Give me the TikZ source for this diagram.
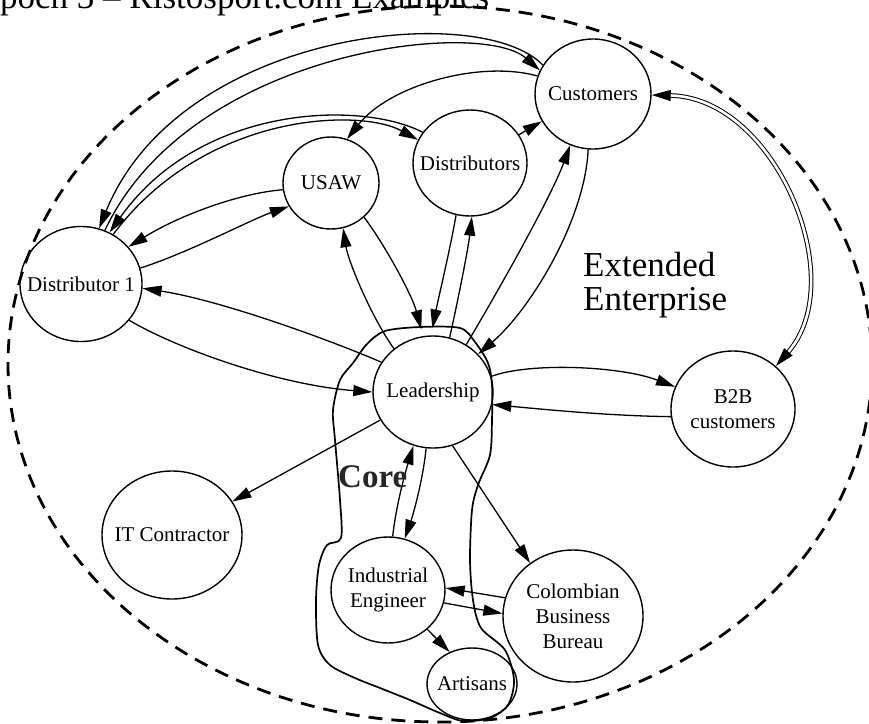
\documentclass[tikz,border=0pt]{standalone}
\usepackage{fontspec}
\setmainfont{Liberation Serif}
\usetikzlibrary{arrows.meta,shapes.geometric}
\begin{document}
\begin{tikzpicture}[x=1pt,y=-1pt,
  ent/.style={ellipse, draw, line width=1.4pt, inner sep=0pt},
  lab/.style={font=\fontsize{21}{25}\selectfont, align=center, inner sep=0pt},
  tip/.tip={Triangle[length=19pt,width=11pt]},
  arr/.style={line width=1.3pt, -tip},
  bigtext/.style={anchor=base west, inner sep=0pt, font=\fontsize{35}{34}\selectfont},
]
\useasboundingbox (0,0) rectangle (869,723);
\clip (0,0) rectangle (869,723);

% title (cut at the top, as in the source)
\node[bigtext] (title) at (0,8) {poch 3 – Ristosport.com Examples};

% extended enterprise boundary
\draw[line width=2.8pt, dash pattern=on 14pt off 9pt] (440,364) ellipse [x radius=432pt, y radius=358pt];

% nodes
\node[ent, minimum width=116pt, minimum height=110pt, label={[lab,name=l-cust]center:Customers}] (cust) at (593,94) {};
\node[ent, minimum width=114pt, minimum height=106pt, label={[lab,name=l-dists]center:Distributors}] (dists) at (470,163) {};
\node[ent, minimum width=96pt, minimum height=92pt, label={[lab,name=l-usaw]center:USAW}] (usaw) at (331,183) {};
\node[ent, minimum width=122pt, minimum height=115pt, label={[lab,name=l-d1]center:Distributor 1}] (d1) at (81,284) {};
\node[ent, minimum width=120pt, minimum height=112pt, label={[lab,name=l-lead]center:Leadership}] (lead) at (433,392) {};
\node[ent, minimum width=124pt, minimum height=116pt, label={[lab,name=l-b2b]center:B2B\\customers}] (b2b) at (733,409) {};
\node[ent, minimum width=140pt, minimum height=128pt, label={[lab,name=l-it]center:IT Contractor}] (it) at (172,535) {};
\node[ent, minimum width=114pt, minimum height=106pt, label={[lab,name=l-ie]center:Industrial\\Engineer}] (ie) at (388,590) {};
\node[ent, minimum width=140pt, minimum height=132pt, label={[lab,name=l-col]center:Colombian\\Business\\Bureau}] (col) at (573,616) {};
\node[ent, minimum width=90pt, minimum height=72pt, label={[lab,name=l-art]center:Artisans}] (art) at (472,684) {};

% connectors
\draw[arr] (cust.150) .. controls (480,0) and (180,30) .. (d1.72);
\draw[arr] (d1.66) .. controls (190,50) and (480,18) .. (cust.156);
\draw[arr] (cust.162) .. controls (480,60) and (390,85) .. (usaw.70);
\draw[arr] (dists.147) .. controls (360,100) and (200,105) .. (d1.61);
\draw[arr] (d1.57) .. controls (205,112) and (360,108) .. (dists.156);
\draw[arr] (dists.30) -- (cust.208);
\draw[arr] (usaw.188) .. controls (240,193) and (180,215) .. (d1.38);
\draw[arr] (d1.15) .. controls (190,252) and (250,220) .. (usaw.209);
\draw[arr] (lead.150) .. controls (330,340) and (220,300) .. (d1.-4);
\draw[arr] (d1.-37) .. controls (180,350) and (280,385) .. (lead.180);
\draw[arr] (lead.132) .. controls (370,315) and (348,260) .. (usaw.285);
\draw[arr, shorten >=7pt] (usaw.-46) .. controls (385,245) and (412,295) .. (lead.100);
\draw[arr, shorten >=7pt] (dists.255) .. controls (450,250) and (438,300) .. (lead.92);
\draw[arr] (lead.73) .. controls (458,300) and (468,250) .. (dists.272);
\draw[arr] (lead.55) .. controls (490,305) and (550,200) .. (cust.246);
\draw[arr] (cust.265) .. controls (585,220) and (530,310) .. (lead.40);
\draw[line width=1pt, double, double distance=2.6pt, tip-tip]
  (cust.-1) .. controls (776,98) and (851,280) .. (b2b.45);
\draw[arr] (lead.15) .. controls (530,362) and (620,366) .. (b2b.159);
\draw[arr] (b2b.187) .. controls (610,416) and (540,409) .. (lead.-12);
\draw[arr] (lead.208) -- (it.29);
\draw[arr] (ie.85) .. controls (396,505) and (406,470) .. (lead.250);
\draw[arr] (lead.263) .. controls (423,480) and (413,515) .. (ie.72);
\draw[arr] (lead.290) -- (col.129);
\draw[arr] (col.165) -- (ie.2);
\draw[arr] (ie.-13) -- (col.178);
\draw[arr] (ie.-45) -- (art.125);

% core outline
\draw[line width=1.7pt] plot[smooth cycle, tension=0.5] coordinates {
  (385,331) (420,327) (460,328) (475,342) (488,363) (492,385) (492,420)
  (490,455) (478,485) (472,510) (470,560) (473,600) (481,628) (505,650)
  (514,680) (508,705) (490,718) (463,721) (440,713) (410,700) (380,688)
  (355,678) (330,665) (318,645) (316,600) (319,565) (327,545) (341,538)
  (340,500) (335,440) (333,410) (340,380) (353,363) (367,344)};

% labels
\node[anchor=base west, inner sep=0pt, font=\bfseries\fontsize{33}{33}\selectfont, text=black!85] (core) at (338,487) {Core};
\node[bigtext] (ext1) at (583,276) {Extended};
\node[bigtext] (ext2) at (583,310) {Enterprise};
\end{tikzpicture}
\end{document}
